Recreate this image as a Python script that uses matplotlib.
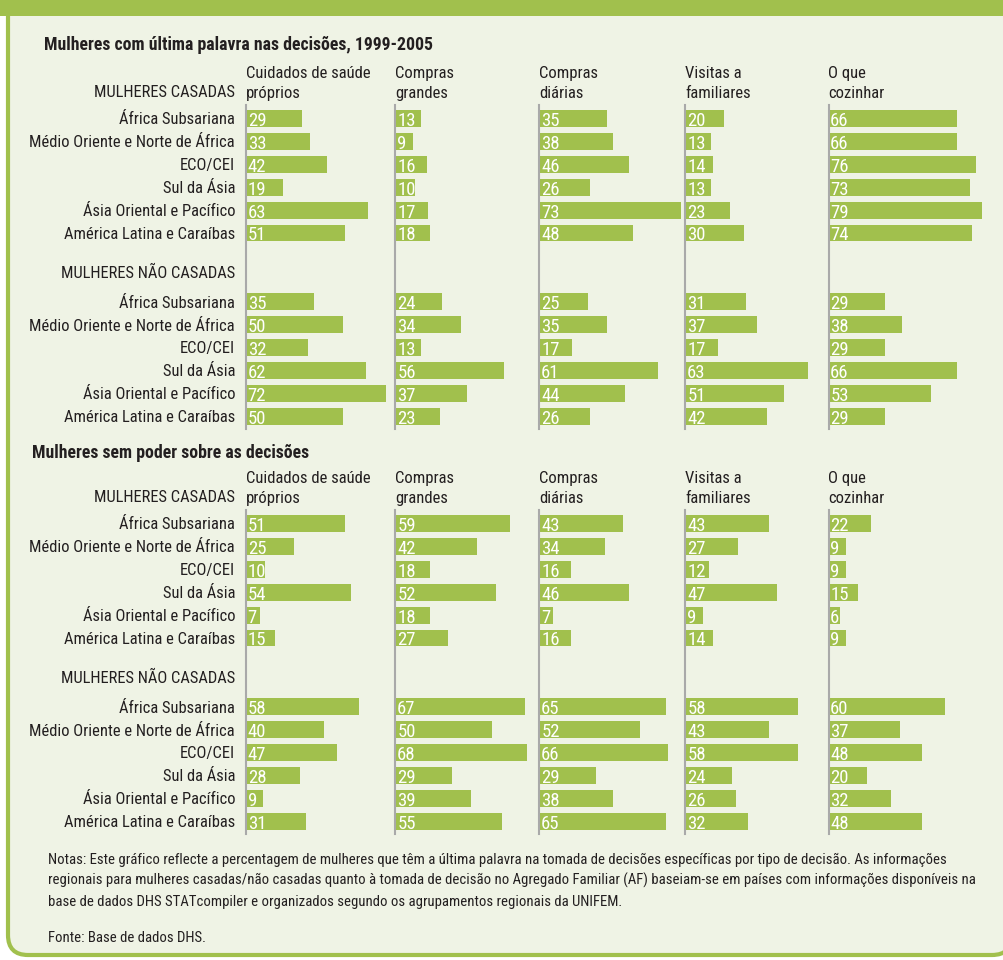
import matplotlib.pyplot as plt
from matplotlib.patches import FancyBboxPatch, Rectangle
from matplotlib.font_manager import FontProperties, fontManager
from matplotlib.textpath import TextToPath

# regiões (linhas) e tipos de decisão (colunas)
regions = ["África Subsariana", "Médio Oriente e Norte de África", "ECO/CEI",
           "Sul da Ásia", "Ásia Oriental e Pacífico", "América Latina e Caraíbas"]
decisions = [("Cuidados de saúde", "próprios"), ("Compras", "grandes"),
             ("Compras", "diárias"), ("Visitas a", "familiares"), ("O que", "cozinhar")]

# % mulheres com última palavra nas decisões, 1999-2005 (uma linha por região)
last_married = [[29, 13, 35, 20, 66],
                [33, 9, 38, 13, 66],
                [42, 16, 46, 14, 76],
                [19, 10, 26, 13, 73],
                [63, 17, 73, 23, 79],
                [51, 18, 48, 30, 74]]
last_unmarried = [[35, 24, 25, 31, 29],
                  [50, 34, 35, 37, 38],
                  [32, 13, 17, 17, 29],
                  [62, 56, 61, 63, 66],
                  [72, 37, 44, 51, 53],
                  [50, 23, 26, 42, 29]]

# % mulheres sem poder sobre as decisões
nopower_married = [[51, 59, 43, 43, 22],
                   [25, 42, 34, 27, 9],
                   [10, 18, 16, 12, 9],
                   [54, 52, 46, 47, 15],
                   [7, 18, 7, 9, 6],
                   [15, 27, 16, 14, 9]]
nopower_unmarried = [[58, 67, 65, 58, 60],
                     [40, 50, 52, 43, 37],
                     [47, 68, 66, 58, 48],
                     [28, 29, 29, 24, 20],
                     [9, 39, 38, 26, 32],
                     [31, 55, 65, 32, 48]]

notes = ["Notas: Este gráfico reflecte a percentagem de mulheres que têm a última palavra na tomada de decisões específicas por tipo de decisão. As informações",
         "regionais para mulheres casadas/não casadas quanto à tomada de decisão no Agregado Familiar (AF) baseiam-se em países com informações disponíveis na",
         "base de dados DHS STATcompiler e organizados segundo os agrupamentos regionais da UNIFEM."]
source = "Fonte: Base de dados DHS."

GREEN = '#A1C04D'
PANEL = '#EFF3E5'
AXIS = '#A9A9A9'
TEXT = '#231F20'

# fonte estreita se houver; senão a mais estreita disponível
candidates = ['Roboto Condensed', 'Liberation Sans Narrow', 'DejaVu Sans Condensed',
              'Noto Sans Condensed', 'Open Sans Condensed', 'Liberation Sans', 'DejaVu Sans']
installed = {f.name for f in fontManager.ttflist}
FONT = next(f for f in candidates if f in installed)
plt.rcParams['font.family'] = [FONT, 'DejaVu Sans']

t2p = TextToPath()


def fit(s, width_px, size_max, weight='normal'):
    # tamanho (pt) para que o texto ocupe width_px, limitado a size_max
    prop = FontProperties(family=FONT, weight=weight, size=10)
    w = t2p.get_text_width_height_descent(s, prop, ismath=False)[0]
    return min(size_max, 10 * width_px * 0.72 / w)


LABEL_FS = min(fit("Médio Oriente e Norte de África", 208, 12),
               fit("MULHERES NÃO CASADAS", 176, 12))
HEAD_FS = fit("Cuidados de saúde", 125, 12)
VALUE_FS = fit("29", 18.5, 14)
TITLE_FS = fit("Mulheres com última palavra nas decisões, 1999-2005", 390, 14, 'bold')
NOTE_FS = min(fit(notes[0], 935, 12), fit(notes[1], 926, 12))

W, H = 1004, 960
PITCH = 22.9      # px por linha
UNIT = 1.94       # px por ponto percentual
COLS_X = [246, 395.5, 539.5, 685.5, 828.5]
YLIM = (13.57, -0.6)

fig = plt.figure(figsize=(W / 100, H / 100), dpi=100)
bg = fig.add_axes([0, 0, 1, 1])
bg.set_xlim(0, W)
bg.set_ylim(H, 0)
bg.axis('off')

bg.add_patch(FancyBboxPatch((8, -40), 1004, 995, boxstyle='round,pad=0,rounding_size=20',
                            fc=PANEL, ec=GREEN, lw=3))
bg.add_patch(Rectangle((0, 0), W, 16, fc=GREEN, ec='none'))


def px_rect(left, top, width, height):
    return [left / W, 1 - (top + height) / H, width / W, height / H]


def draw_section(first_row_y, married, unmarried, title, title_xy):
    top = first_row_y + YLIM[1] * PITCH
    height = (YLIM[0] - YLIM[1]) * PITCH
    ys = list(range(6)) + list(range(8, 14))

    bg.text(title_xy[0], title_xy[1], title, fontsize=TITLE_FS, weight='bold',
            color=TEXT, va='baseline', ha='left')
    bg.text(235, top - 8, "MULHERES CASADAS", fontsize=LABEL_FS, color=TEXT,
            va='baseline', ha='right')

    for c in range(len(decisions)):
        vals = [r[c] for r in married] + [r[c] for r in unmarried]
        ax = fig.add_axes(px_rect(COLS_X[c], top, 80 * UNIT, height))
        ax.set_xlim(0, 80)
        ax.set_ylim(*YLIM)
        ax.patch.set_visible(False)
        for s in ['top', 'right', 'bottom']:
            ax.spines[s].set_visible(False)
        ax.spines['left'].set_color(AXIS)
        ax.spines['left'].set_linewidth(1.5)
        ax.set_xticks([])

        ax.barh(ys, vals, height=0.74, color=GREEN)
        for y, v in zip(ys, vals):
            ax.text(0.9, y + 0.02, str(v), color='white', fontsize=VALUE_FS,
                    va='center_baseline', ha='left')

        if c == 0:
            ax.set_yticks(ys + [6.7], regions + regions + ["MULHERES NÃO CASADAS"])
            ax.tick_params(axis='y', length=0, pad=7.9, labelsize=LABEL_FS,
                           labelcolor=TEXT)
        else:
            ax.set_yticks([])

        line1, line2 = decisions[c]
        bg.text(COLS_X[c], top - 26.5, line1, fontsize=HEAD_FS, color=TEXT,
                va='baseline', ha='left')
        bg.text(COLS_X[c], top - 7, line2, fontsize=HEAD_FS, color=TEXT,
                va='baseline', ha='left')


draw_section(118.5, last_married, last_unmarried,
             "Mulheres com última palavra nas decisões, 1999-2005", (44, 50))
draw_section(523.5, nopower_married, nopower_unmarried,
             "Mulheres sem poder sobre as decisões", (32, 457.5))

for i, line in enumerate(notes):
    bg.text(48, 864 + 21 * i, line, fontsize=NOTE_FS, color=TEXT,
            va='baseline', ha='left')
bg.text(48, 942, source, fontsize=NOTE_FS, color=TEXT, va='baseline', ha='left')

fig.savefig('out.png', dpi=100, facecolor='white')
